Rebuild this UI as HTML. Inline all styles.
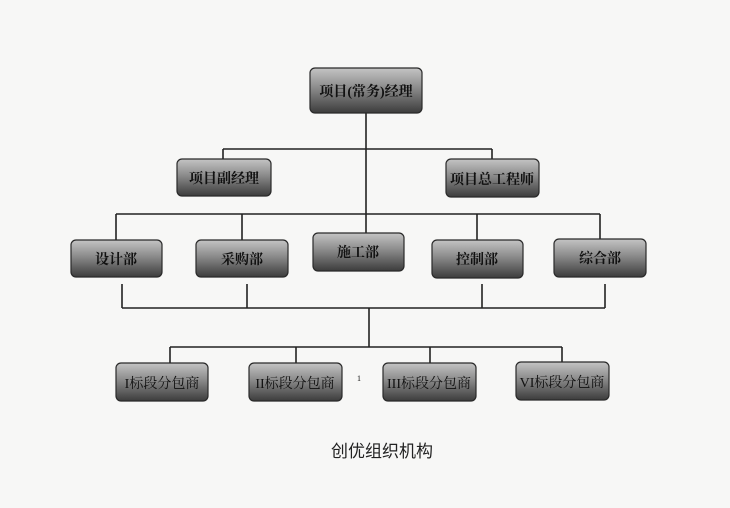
<!DOCTYPE html>
<html><head><meta charset="utf-8"><style>
html,body{margin:0;padding:0;background:#f7f7f6;}
svg{display:block}
text{font-family:"Liberation Serif","Noto Serif CJK SC","Noto Sans CJK SC",serif;fill:#111;}
.b{font-weight:bold}
.n{font-weight:normal}
.cap{font-family:"Liberation Sans","Noto Sans CJK SC",sans-serif;font-weight:normal;fill:#222}
</style></head><body>
<svg width="730" height="508" viewBox="0 0 730 508" xmlns="http://www.w3.org/2000/svg">
<defs>
<linearGradient id="g" x1="0" y1="0" x2="0" y2="1">
<stop offset="0" stop-color="#c4c4c4"/>
<stop offset="0.45" stop-color="#8a8a8a"/>
<stop offset="1" stop-color="#3c3c3c"/>
</linearGradient>
</defs>
<g stroke="#222" stroke-width="1.6" fill="none">
<line x1="366" y1="113" x2="366" y2="214"/>
<line x1="223" y1="149" x2="492" y2="149"/>
<line x1="223" y1="149" x2="223" y2="159"/>
<line x1="492" y1="149" x2="492" y2="159"/>
<line x1="116" y1="214" x2="600" y2="214"/>
<line x1="116" y1="214" x2="116" y2="240"/>
<line x1="242" y1="214" x2="242" y2="240"/>
<line x1="366" y1="214" x2="366" y2="233"/>
<line x1="477" y1="214" x2="477" y2="240"/>
<line x1="600" y1="214" x2="600" y2="240"/>
<line x1="122" y1="284" x2="122" y2="308"/>
<line x1="247" y1="284" x2="247" y2="308"/>
<line x1="482" y1="284" x2="482" y2="308"/>
<line x1="605" y1="284" x2="605" y2="308"/>
<line x1="122" y1="308" x2="605" y2="308"/>
<line x1="369" y1="308" x2="369" y2="347"/>
<line x1="170" y1="347" x2="562" y2="347"/>
<line x1="170" y1="347" x2="170" y2="363"/>
<line x1="296" y1="347" x2="296" y2="363"/>
<line x1="430" y1="347" x2="430" y2="363"/>
<line x1="562" y1="347" x2="562" y2="363"/>
</g>
<g fill="url(#g)" stroke="#2a2a2a" stroke-width="1.2">
<rect x="310" y="68" width="112" height="45" rx="5"/>
<rect x="177" y="159" width="94" height="37" rx="5"/>
<rect x="446" y="159" width="93" height="38" rx="5"/>
<rect x="71" y="240" width="91" height="37" rx="5"/>
<rect x="196" y="240" width="92" height="37" rx="5"/>
<rect x="313" y="233" width="91" height="38" rx="5"/>
<rect x="432" y="240" width="91" height="38" rx="5"/>
<rect x="554" y="239" width="92" height="38" rx="5"/>
<rect x="116" y="363" width="92" height="38" rx="5"/>
<rect x="249" y="363" width="93" height="38" rx="5"/>
<rect x="383" y="363" width="93" height="38" rx="5"/>
<rect x="516" y="362" width="93" height="38" rx="5"/>
</g>
<g font-size="14" text-anchor="middle" class="b">
<text class="b" x="366" y="96">项目(常务)经理</text>
<text class="b" x="224" y="183">项目副经理</text>
<text class="b" x="492" y="184">项目总工程师</text>
<text class="b" x="116" y="264">设计部</text>
<text class="b" x="242" y="264">采购部</text>
<text class="b" x="358" y="257">施工部</text>
<text class="b" x="477" y="264">控制部</text>
<text class="b" x="600" y="263">综合部</text>
<text class="n" x="162" y="388">I标段分包商</text>
<text class="n" x="295" y="388">II标段分包商</text>
<text class="n" x="429" y="388">III标段分包商</text>
<text class="n" x="562" y="387">VI标段分包商</text>
</g>
<text class="n" x="357" y="381" font-size="8" fill="#888">1</text>
<text class="cap" x="382" y="457" font-size="17" text-anchor="middle">创优组织机构</text>
</svg>
</body></html>
